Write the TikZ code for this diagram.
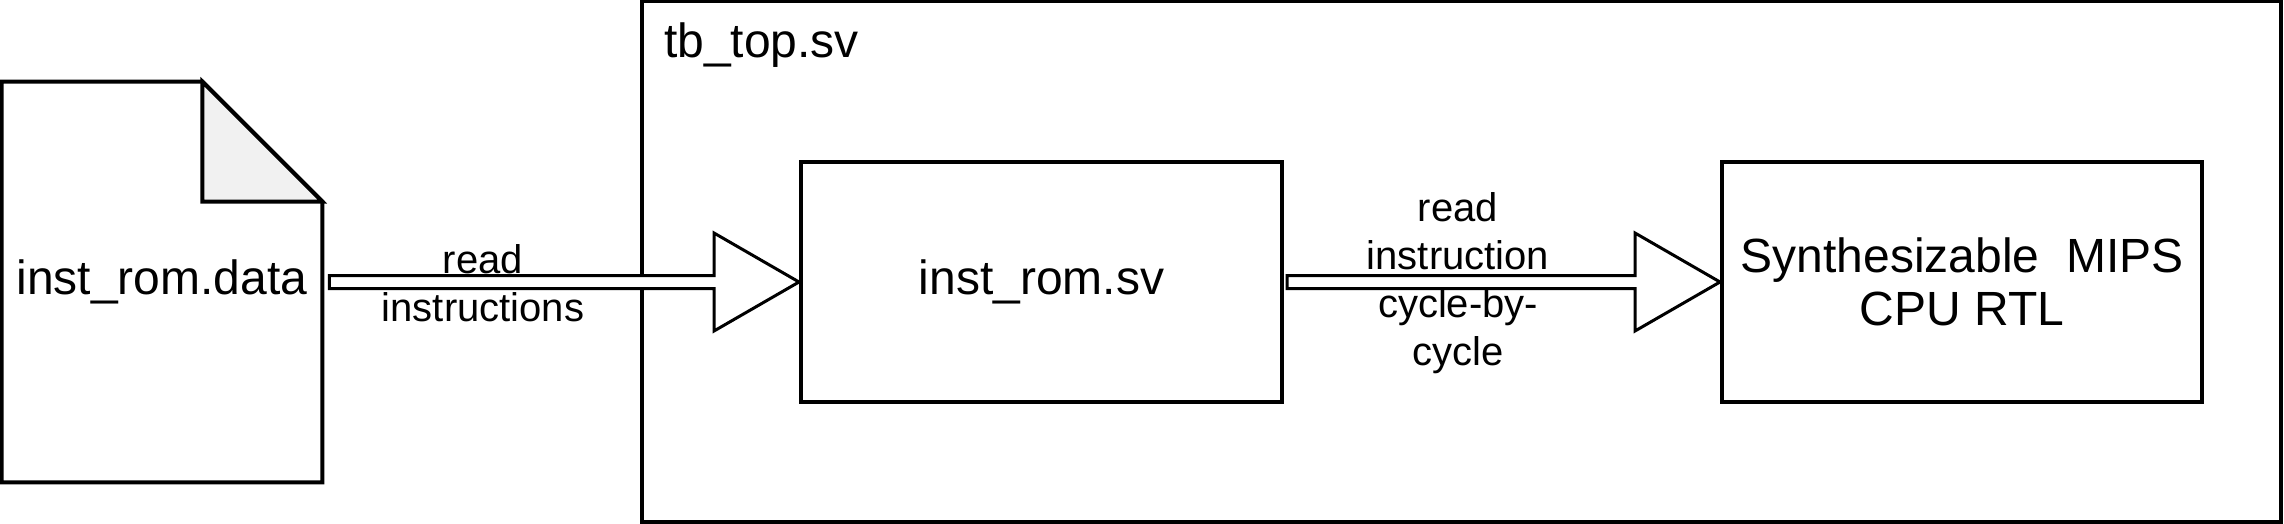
\documentclass[tikz,border=0pt]{standalone}
\usepackage{fontspec}
\setmainfont{Liberation Sans}
\usetikzlibrary{calc}
\definecolor{foldgray}{HTML}{F1F1F1}
\newcommand{\shaftw}{3.25pt}
\newcommand{\headw}{24.5pt}
\newcommand{\headl}{42.5pt}
% block arrow from one anchor to another
\newcommand{\blockarrow}[2]{%
  \draw[blockarrow] ([yshift=\shaftw]#1) -- ([xshift=-\headl,yshift=\shaftw]#2)
    -- ([xshift=-\headl,yshift=\headw]#2) -- (#2)
    -- ([xshift=-\headl,yshift=-\headw]#2) -- ([xshift=-\headl,yshift=-\shaftw]#2)
    -- ([yshift=-\shaftw]#1) -- cycle;}

\begin{document}
\begin{tikzpicture}[
    x=0.5pt, y=-0.5pt,
    every node/.style={font=\fontsize{24}{26.5}\selectfont},
    modbox/.style={
        draw, line width=2pt,
        minimum width=240pt, minimum height=120pt,
        align=center, inner sep=0pt
    },
    framebox/.style={
        draw, line width=2pt,
        minimum width=819.5pt, minimum height=260pt,
        inner sep=0pt
    },
    docbox/.style={
        minimum width=160pt, minimum height=200pt,
        inner sep=0pt
    },
    arrowlabel/.style={
        font=\fontsize{20}{24}\selectfont, align=center
    },
    blockarrow/.style={
        draw, line width=1.5pt, fill=white, line join=miter
    },
]
\useasboundingbox (0,0) rectangle (2284,524);

% ===== Testbench frame =====
\node[framebox] (tbtop) at (1461.5,261.5) {};
\node[anchor=west] (tblabel) at ([xshift=8.5pt,yshift=-23pt]tbtop.north west) {tb\_top.sv};

% ===== Data file =====
\node[docbox] (doc) at (162,282) {inst\_rom.data};
\draw[line width=2pt, line join=miter] (doc.north west) -- ([xshift=-60pt]doc.north east)
    -- ([yshift=-60pt]doc.north east) -- (doc.south east) -- (doc.south west) -- cycle;
\draw[line width=2pt, fill=foldgray, line join=miter] ([xshift=-60pt]doc.north east)
    -- ([xshift=-60pt,yshift=-60pt]doc.north east) -- ([yshift=-60pt]doc.north east) -- cycle;

% ===== Modules =====
\node[modbox, minimum width=240.5pt] (rom) at (1041.5,282) {inst\_rom.sv};
\node[modbox] (cpu) at (1962,282) {Synthesizable\ \ MIPS\\CPU RTL};

% ===== Block arrows =====
\coordinate (docout) at ([xshift=3.5pt]doc.east);
\coordinate (romout) at ([xshift=1.5pt]rom.east);
\blockarrow{docout}{rom.west}
\blockarrow{romout}{cpu.west}

% ===== Arrow labels =====
\node[arrowlabel] (lbl1) at (483,283) {read\\instructions};
\node[arrowlabel] (lbl2) at (1458,283) {read\\instruction\\cycle-by-\\cycle};

\end{tikzpicture}
\end{document}
